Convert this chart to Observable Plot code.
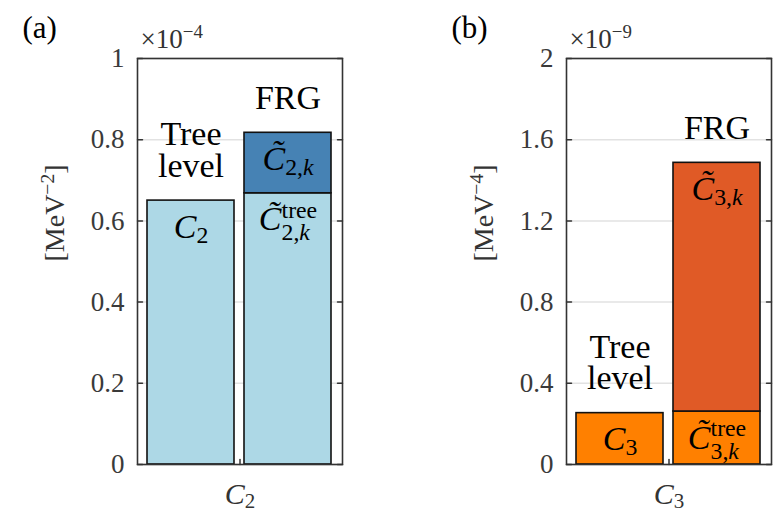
<!DOCTYPE html>
<html>
<head>
<meta charset="utf-8">
<script src="https://cdn.jsdelivr.net/npm/d3@7"></script>
<script src="https://cdn.jsdelivr.net/npm/@observablehq/plot@0.6"></script>
<style>
  body { margin: 0; background: #fff; }
  #figure { position: relative; width: 778px; height: 508px; display: flex; }
  #figure svg { flex: none; }
</style>
</head>
<body>
<div id="figure"></div>
<script>
// Bar groups: tree-level value vs. FRG value (split into its tree part and the loop part)
const groupKeys = ["tree", "frg"];
const groupCaptions = ["Tree\nlevel", "FRG"];

// (a) second-order coefficient, in units of 1e-4 MeV^-2
const segGroupA = ["tree", "frg", "frg"];
const segLowA = [0, 0, 0.668];
const segHighA = [0.650, 0.668, 0.817];
const segFillA = ["#ADD8E6", "#ADD8E6", "#4682B4"];
const yTicksA = [0, 0.2, 0.4, 0.6, 0.8, 1];
const termsA = [
  [{t: "C", it: 1}, {t: "2", pos: "sub"}],
  [{t: "C", it: 1, tilde: 1}, {t: "tree", pos: "sup"}, {t: "2,", pos: "sub", under: 1}, {t: "k", pos: "sub", it: 1}],
  [{t: "C", it: 1, tilde: 1}, {t: "2,", pos: "sub"}, {t: "k", pos: "sub", it: 1}]
];
const axisTermA = [{t: "C", it: 1}, {t: "2", pos: "sub"}];
const unitA = [{t: "[MeV"}, {t: "\u22122", pos: "sup"}, {t: "]"}];
const powerA = [{t: "\u00d710"}, {t: "\u22124", pos: "sup"}];

// (b) third-order coefficient, in units of 1e-9 MeV^-4
const segGroupB = ["tree", "frg", "frg"];
const segLowB = [0, 0, 0.261];
const segHighB = [0.253, 0.261, 1.486];
const segFillB = ["#FF8000", "#FF8000", "#E05A26"];
const yTicksB = [0, 0.4, 0.8, 1.2, 1.6, 2];
const termsB = [
  [{t: "C", it: 1}, {t: "3", pos: "sub"}],
  [{t: "C", it: 1, tilde: 1}, {t: "tree", pos: "sup"}, {t: "3,", pos: "sub", under: 1}, {t: "k", pos: "sub", it: 1}],
  [{t: "C", it: 1, tilde: 1}, {t: "3,", pos: "sub"}, {t: "k", pos: "sub", it: 1}]
];
const axisTermB = [{t: "C", it: 1}, {t: "3", pos: "sub"}];
const unitB = [{t: "[MeV"}, {t: "\u22124", pos: "sup"}, {t: "]"}];
const powerB = [{t: "\u00d710"}, {t: "\u22129", pos: "sup"}];

const FONT = "Liberation Serif, DejaVu Serif, serif";
const plain = (segs) => segs.map((s) => s.t).join("");

// a short straight stroke used for the inward tick marks
const stub = {draw(context, l) { context.moveTo(0, 0); context.lineTo(0, -l); }};

// Replace a text node's content with italic / tilde / super- and subscript tspans
function typeset(node, segs, fs) {
  const t = d3.select(node).text(null);
  const hasSup = segs.some((s) => s.pos === "sup");
  let level = 0, supWidth = 0;
  for (const s of segs) {
    const small = s.pos === "sup" || s.pos === "sub";
    const target = s.pos === "sup" ? -0.36 * fs : s.pos === "sub" ? (hasSup ? 0.3 : 0.15) * fs : 0;
    const span = t.append("tspan")
      .attr("font-size", small ? 0.7 * fs : fs)
      .attr("font-style", s.it ? "italic" : "normal")
      .attr("dy", target - level)
      .text(s.t + (s.tilde ? "\u0303" : ""));
    if (s.under) span.attr("dx", -supWidth);
    if (s.pos === "sup") supWidth += span.node().getComputedTextLength();
    level = target;
  }
}

function panel({group, low, high, fill, ticks, ymax, terms, axisTerm, unit, power, tag, marginLeft, marginRight}) {
  const rows = group.map((g, i) => ({g, y1: low[i], y2: high[i], fill: fill[i], term: terms[i]}));
  const groupTop = groupKeys.map((k) => d3.max(rows.filter((r) => r.g === k), (r) => r.y2));

  const svg = Plot.plot({
    width: 389,
    height: 508,
    marginTop: 58,
    marginBottom: 44,
    marginLeft,
    marginRight,
    style: {fontFamily: FONT, background: "white", overflow: "visible", color: "#333"},
    x: {domain: groupKeys, paddingInner: 0.1, paddingOuter: 0.1, axis: null},
    y: {domain: [0, ymax], axis: null},
    marks: [
      Plot.gridY(ticks, {stroke: "#e2e2e2", strokeOpacity: 1, strokeWidth: 1.5}),
      Plot.rectY(rows, {x: "g", y1: "y1", y2: "y2", fill: "fill", stroke: "#111", strokeWidth: 1.6}),
      Plot.axisY(ticks, {anchor: "left", tickSize: 0, tickPadding: 13, tickFormat: (d) => String(d), fontSize: 27, fill: "#3a3a3a", label: null}),
      Plot.vector(ticks, {y: (d) => d, frameAnchor: "left", rotate: 90, length: 5, anchor: "start", shape: stub, stroke: "#333", strokeWidth: 1.5}),
      Plot.vector(ticks, {y: (d) => d, frameAnchor: "right", rotate: -90, length: 5, anchor: "start", shape: stub, stroke: "#333", strokeWidth: 1.5}),
      Plot.vector([0], {frameAnchor: "bottom", rotate: 0, length: 5, anchor: "start", shape: stub, stroke: "#333", strokeWidth: 1.5}),
      Plot.frame({stroke: "#333", strokeWidth: 1.6}),
      Plot.text(groupCaptions, {x: groupKeys, y: groupTop, text: groupCaptions, lineAnchor: "bottom", lineHeight: 0.92, dy: -24, fontSize: 34, fill: "black"}),
      Plot.text(rows, {x: "g", y: "y2", text: (d) => plain(d.term), lineAnchor: "bottom", dy: 37, fontSize: 34, fill: "black"}),
      Plot.text([axisTerm], {frameAnchor: "bottom", text: plain, lineAnchor: "bottom", dy: 39, fontSize: 30, fill: "#333"}),
      Plot.text([unit], {frameAnchor: "left", text: plain, rotate: -90, dx: -82, lineAnchor: "middle", fontSize: 28, fill: "#333"}),
      Plot.text([power], {frameAnchor: "top-left", text: plain, textAnchor: "start", lineAnchor: "bottom", dx: 3, dy: -11, fontSize: 27, fill: "#333"}),
      Plot.text([tag], {frameAnchor: "top-left", textAnchor: "start", lineAnchor: "bottom", dx: -115, dy: -21, fontSize: 31, fill: "black"})
    ]
  });
  document.getElementById("figure").appendChild(svg);

  // set the mathematical labels with proper italics and scripts
  const specs = new Map([...terms, axisTerm, unit, power].map((segs) => [plain(segs), segs]));
  d3.select(svg).selectAll("text").each(function () {
    if (this.querySelector("tspan")) return;
    const segs = specs.get(this.textContent);
    if (segs) typeset(this, segs, parseFloat(getComputedStyle(this).fontSize));
  });
}

panel({group: segGroupA, low: segLowA, high: segHighA, fill: segFillA, ticks: yTicksA, ymax: 1,
       terms: termsA, axisTerm: axisTermA, unit: unitA, power: powerA, tag: "(a)", marginLeft: 137, marginRight: 47});
panel({group: segGroupB, low: segLowB, high: segHighB, fill: segFillB, ticks: yTicksB, ymax: 2,
       terms: termsB, axisTerm: axisTermB, unit: unitB, power: powerB, tag: "(b)", marginLeft: 177, marginRight: 7});
</script>
</body>
</html>
